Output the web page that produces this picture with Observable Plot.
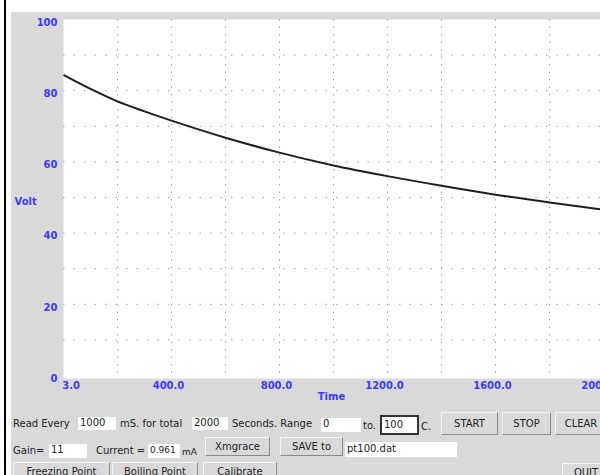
<!DOCTYPE html>
<html><head><meta charset="utf-8">
<script src="https://cdn.jsdelivr.net/npm/d3@7"></script>
<script src="https://cdn.jsdelivr.net/npm/@observablehq/plot@0.6"></script>
<style>
html,body{margin:0;padding:0;background:#fff;}
#wrap{position:relative;width:600px;height:475px;overflow:hidden;background:#fff;font-family:"DejaVu Sans",sans-serif;font-size:10px;color:#222;}
#panel{position:absolute;left:11px;top:12px;width:600px;height:470px;background:#d9d9d9;}
#vline{position:absolute;left:4px;top:0;width:2px;height:475px;background:#000;}
#chart{position:absolute;left:0;top:0;}
.lbl{position:absolute;white-space:nowrap;line-height:12px;}
.ent{position:absolute;background:#fff;height:13px;line-height:13px;padding-left:2px;box-sizing:border-box;white-space:nowrap;overflow:hidden;}
.btn{position:absolute;background:#d9d9d9;box-sizing:border-box;border:1px solid;border-color:#f4f4f4 #8a8a8a #8a8a8a #f4f4f4;text-align:center;white-space:nowrap;}
</style></head>
<body>
<div id="wrap">
  <div id="panel"></div>
  <div id="vline"></div>
  <div id="chart"></div>
</div>
<script>
// data
const times = [3, 100, 200, 300, 400, 600, 800, 1000, 1200, 1400, 1600, 1800, 2000];
const volts = [84.3, 80.5, 77.0, 74.2, 71.6, 66.8, 62.6, 59.0, 56.0, 53.3, 50.8, 48.6, 46.6];
const yTickValues = [0, 20, 40, 60, 80, 100];
const yTickLabels = ["0", "20", "40", "60", "80", "100"];
const xTickValues = [3, 400, 800, 1200, 1600, 2000];
const xTickLabels = ["3.0", "400.0", "800.0", "1200.0", "1600.0", "2000.0"];
const hGrid = [10, 20, 30, 40, 50, 60, 70, 80, 90];
const vGrid = [200, 400, 600, 800, 1000, 1200, 1400, 1600, 1800];

const series = times.map((t, i) => ({t, v: volts[i]}));
const yTicks = yTickValues.map((v, i) => ({v, label: yTickLabels[i]}));
const xTicks = xTickValues.map((v, i) => ({v, label: xTickLabels[i], first: i === 0}));

const blue = "#3a3aff";
const chart = Plot.plot({
  width: 640,
  height: 410,
  marginLeft: 63,
  marginRight: 37,
  marginTop: 19,
  marginBottom: 32,
  style: {background: "transparent", fontFamily: "DejaVu Sans", fontSize: "10px", maxWidth: "none", overflow: "visible"},
  x: {domain: [0, 2000], axis: null},
  y: {domain: [0, 100], range: [375, 19], axis: null},
  marks: [
    Plot.frame({fill: "white", stroke: null}),
    Plot.ruleY(hGrid, {stroke: "#a8a8a8", strokeWidth: 1, strokeDasharray: "1.5,9"}),
    Plot.ruleX(vGrid, {stroke: "#a8a8a8", strokeWidth: 1, strokeDasharray: "1.5,6"}),
    Plot.line(series, {x: "t", y: "v", stroke: "#1e1e1e", strokeWidth: 2, curve: "monotone-x"}),
    Plot.text(yTicks, {y: "v", text: "label", frameAnchor: "left", dx: -6, dy: 3, textAnchor: "end", fill: blue, fontWeight: "bold"}),
    Plot.text(xTicks.filter(d => d.first), {x: "v", text: "label", frameAnchor: "bottom", dy: 10, dx: -2, textAnchor: "start", fill: blue, fontWeight: "bold"}),
    Plot.text(xTicks.filter(d => !d.first), {x: "v", text: "label", frameAnchor: "bottom", dy: 10, dx: -3, textAnchor: "middle", fill: blue, fontWeight: "bold"}),
    Plot.text(["Volt"], {frameAnchor: "left", dx: -49, dy: 3, textAnchor: "start", fill: blue, fontWeight: "bold"}),
    Plot.text(["Time"], {frameAnchor: "bottom", dx: -2, dy: 21, fill: blue, fontWeight: "bold"})
  ]
});
document.getElementById("chart").appendChild(chart);

// control widgets below the chart
const wrap = document.getElementById("wrap");
function add(cls, text, x, y, w, h, extra) {
  const d = document.createElement("div");
  d.className = cls;
  d.textContent = text;
  d.style.left = x + "px"; d.style.top = y + "px";
  if (w) d.style.width = w + "px";
  if (h) { d.style.height = h + "px"; d.style.lineHeight = (h - 2) + "px"; }
  if (extra) Object.assign(d.style, extra);
  wrap.appendChild(d);
}
// row 1
add("lbl", "Read Every", 13, 418);
add("ent", "1000", 78, 417, 38, 13);
add("lbl", "mS. for total", 120, 418);
add("ent", "2000", 192, 417, 36, 13);
add("lbl", "Seconds. Range", 232, 418);
add("ent", "0", 321, 418, 40, 14);
add("lbl", "to.", 363, 420);
add("ent", "100", 380, 415, 39, 20, {border: "2px solid #333", lineHeight: "16px"});
add("lbl", "C.", 421, 421);
add("btn", "START", 441, 412, 57, 23);
add("btn", "STOP", 502, 412, 49, 23);
add("btn", "CLEAR", 555, 412, 52, 23);
// row 2
add("lbl", "Gain=", 13, 445);
add("ent", "11", 49, 444, 38, 14);
add("lbl", "Current =", 96, 445);
add("ent", "0.961", 148, 444, 32, 14, {fontSize: "9px"});
add("lbl", "mA", 182, 446, null, null, {fontSize: "9px"});
add("btn", "Xmgrace", 205, 437, 65, 19);
add("btn", "SAVE to", 280, 437, 63, 19);
add("ent", "pt100.dat", 345, 442, 112, 15);
// row 3
add("btn", "Freezing Point", 13, 462, 97, 20);
add("btn", "Boiling Point", 112, 462, 86, 20);
add("btn", "Calibrate", 203, 462, 74, 20);
add("btn", "QUIT", 562, 463, 48, 20);
</script>
</body></html>
